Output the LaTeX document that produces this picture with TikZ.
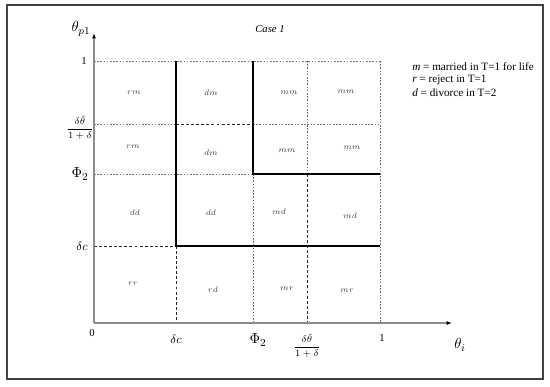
\documentclass[tikz,border=0pt]{standalone}
\usepackage{fontspec}
\setmainfont{Liberation Serif}
\usetikzlibrary{arrows.meta}
\tikzset{
  frame/.style={draw=black!75, line width=1.3pt},
  axis/.style={draw=black!45, line width=0.9pt, -{Latex[length=4pt,width=3pt,black]}},
  grid/.style={draw=black!55, line width=0.45pt, dash pattern=on 1.2pt off 1.2pt},
  bdash/.style={draw=black!85, line width=0.6pt, dash pattern=on 2.2pt off 1.6pt},
  bound/.style={draw=black, line width=1.3pt},
  cell/.style={font=\fontsize{6}{7}\selectfont, text=black!75, inner sep=0pt},
  tick/.style={font=\fontsize{8}{9}\selectfont, inner sep=1pt},
  fracl/.style={font=\fontsize{7.5}{8}\selectfont, inner sep=0pt},
  big/.style={font=\fontsize{11}{12}\selectfont, inner sep=1pt},
  legend/.style={font=\fontsize{8.4}{9}\selectfont, anchor=west, inner sep=0pt},
}
\begin{document}
\begin{tikzpicture}[x=0.75pt, y=-0.75pt]
\useasboundingbox (0,0) rectangle (550,386);
\draw[frame] (7,5) rectangle (543,379);
% grid coordinates
\coordinate (O) at (94,323);
\coordinate (ytop) at (94,33);
\coordinate (xend) at (452,323);
\coordinate (a1) at (176,61); \coordinate (a2) at (176,124); \coordinate (a3) at (176,174); \coordinate (a4) at (176,246); \coordinate (a5) at (176,323);
\coordinate (b1) at (253,61); \coordinate (b2) at (253,124); \coordinate (b3) at (253,174); \coordinate (b4) at (253,246); \coordinate (b5) at (253,323);
\coordinate (c1) at (307,61); \coordinate (c3) at (307,174); \coordinate (c5) at (307,323);
\coordinate (d1) at (380,61); \coordinate (d2) at (380,124); \coordinate (d3) at (380,174); \coordinate (d4) at (380,246); \coordinate (d5) at (380,323);
\coordinate (l1) at (94,61); \coordinate (l2) at (94,124); \coordinate (l3) at (94,174); \coordinate (l4) at (94,246);
% gray grid
\draw[grid] (l1) -- (d1);
\draw[grid] (l2) -- (a2);
\draw[grid] (b2) -- (d2);
\draw[grid] (l3) -- (b3);
\draw[grid] (b3) -- (b5);
\draw[grid] (c1) -- (c3);
\draw[grid] (d1) -- (d5);
% black dashed
\draw[bdash] (l4) -- (a4);
\draw[bdash] (a4) -- (a5);
\draw[bdash] (a2) -- (b2);
\draw[bdash] (c3) -- (c5);
% axes
\draw[axis] (O) -- (ytop);
\draw[axis] (O) -- (xend);
% boundaries
\draw[bound] (a1) -- (a4) -- (d4);
\draw[bound] (b1) -- (b3) -- (d3);
% axis labels
\node[big] (ylab) at (81,29) {$\theta_{p1}$};
\node[big] (xlab) at (460,345) {$\theta_i$};
\node[font=\itshape\fontsize{8}{9}\selectfont] (case) at (270,29) {Case 1};
\node[tick] (y1) at (84,61) {1};
\node[fracl] (yfrac) at (80,128) {$\displaystyle\frac{\delta\hat{\theta}}{1+\delta}$};
\node[big] (yphi) at (80,174) {$\Phi_2$};
\node[tick, font=\fontsize{9.5}{10}\selectfont] (ydc) at (82,246) {$\delta c$};
\node[tick] (x0) at (92,333) {0};
\node[tick, font=\fontsize{9.5}{10}\selectfont] (xdc) at (176,339) {$\delta c$};
\node[big] (xphi) at (258,340) {$\Phi_2$};
\node[fracl] (xfrac) at (307,346) {$\displaystyle\frac{\delta\hat{\theta}}{1+\delta}$};
\node[tick] (x1) at (382,338) {1};
% cells
\node[cell] (r1c1) at (134,93) {$rm$};
\node[cell] (r1c2) at (211,93) {$dm$};
\node[cell] (r1c3) at (289,93) {$mm$};
\node[cell] (r1c4) at (346,92) {$mm$};
\node[cell] (r2c1) at (133,147) {$rm$};
\node[cell] (r2c2) at (211,153) {$dm$};
\node[cell] (r2c3) at (287,151) {$mm$};
\node[cell] (r2c4) at (352,148) {$mm$};
\node[cell] (r3c1) at (135,213) {$dd$};
\node[cell] (r3c2) at (211,213) {$dd$};
\node[cell] (r3c3) at (279,212) {$md$};
\node[cell] (r3c4) at (350,216) {$md$};
\node[cell] (r4c1) at (133,284) {$rr$};
\node[cell] (r4c2) at (213,290) {$rd$};
\node[cell] (r4c3) at (287,289) {$mr$};
\node[cell] (r4c4) at (347,291) {$mr$};
% legend
\node[legend] (lg1) at (412,67) {\textit{m} = married in T=1 for life};
\node[legend] (lg2) at (412,80) {\textit{r} = reject in T=1};
\node[legend] (lg3) at (412,93) {\textit{d} = divorce in T=2};
\end{tikzpicture}
\end{document}
